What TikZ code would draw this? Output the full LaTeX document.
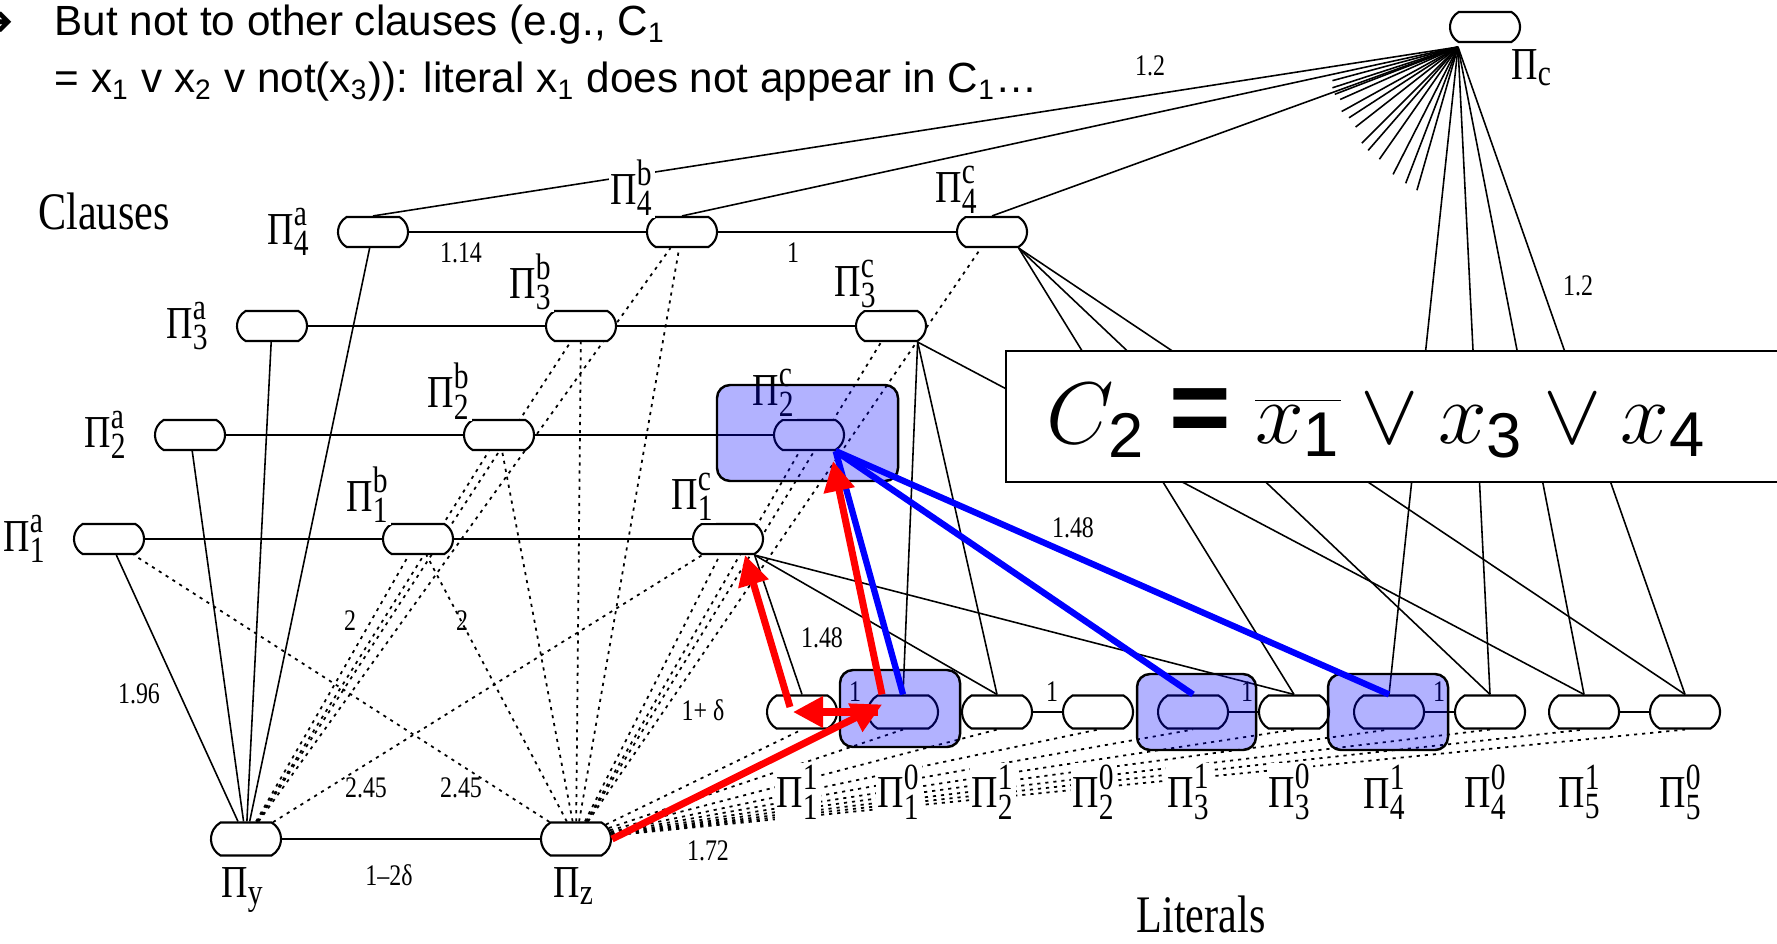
\documentclass[tikz,border=0pt]{standalone}
\usepackage{fontspec}
\setmainfont{Liberation Serif}
\setsansfont{Liberation Sans}
\newfontfamily\narrowfont[FakeStretch=0.8]{Liberation Serif}
\newfontfamily\symfont{DejaVu Sans}
\usetikzlibrary{shapes.misc,arrows.meta}
\pgfdeclarelayer{background}
\pgfsetlayers{background,main}

\newcommand\scriptlab{\fontsize{10.5}{10.5}\selectfont}
\newcommand\PiLab[2]{$\hbox{Π}^{\hbox{\scriptlab #1}}_{\hbox{\scriptlab #2}}$}
\newcommand\PiSub[1]{$\hbox{Π}_{\hbox{\scriptlab #1}}$}
\newcommand\fsub[1]{_{\hbox{\sffamily\fontsize{18}{18}\selectfont #1}}}

\begin{document}
\begin{tikzpicture}[x=0.01cm, y=-0.01cm,
  clause/.style={rounded rectangle, rounded rectangle arc length=120, draw=black, line width=0.6pt, fill=white, minimum width=0.7cm, minimum height=0.3cm, inner sep=0pt},
  literal/.style={clause, minimum height=0.33cm},
  pilabel/.style={inner sep=0.5pt, fill=white, font=\narrowfont\fontsize{13}{13}\selectfont},
  weight/.style={inner sep=0pt, font=\narrowfont\fontsize{8.5}{9}\selectfont},
  bigword/.style={inner sep=0pt, anchor=base, font=\narrowfont\fontsize{15}{15}\selectfont},
  solidedge/.style={line width=0.45pt},
  dottededge/.style={line width=0.5pt, dash pattern=on 0.9pt off 1.4pt},
  redarrow/.style={draw=red, line width=2pt, -{Triangle[length=3mm,width=3mm]}},
  blueedge/.style={draw=blue, line width=1.8pt},
  hilite/.style={draw=black, line width=0.7pt, fill=blue, fill opacity=0.3, rounded corners=1.3mm},
]
\useasboundingbox (0,0) rectangle (1777,943);

%%% text at the top
\node[anchor=base east, inner sep=0pt, font=\symfont\fontsize{12}{14}\selectfont] (bullet) at (15,36) {➔};
\node[anchor=base west, inner sep=0pt, font=\sffamily\fontsize{12}{14}\selectfont] (line1) at (54,36) {But not to other clauses (e.g., C\textsubscript{1}};
\node[anchor=base west, inner sep=0pt, font=\sffamily\fontsize{12}{14}\selectfont] (line2) at (54,93) {= x\textsubscript{1} v x\textsubscript{2} v not(x\textsubscript{3})): literal x\textsubscript{1} does not appear in C\textsubscript{1}…};

\node[bigword] (clauses) at (104,230) {Clauses};
\node[bigword] (literals) at (1201,932) {Literals};

%%% clause nodes
\foreach \i/\y/\x in {1/539/109, 2/435/190, 3/326/272, 4/232/373} {
  \node[clause] (a\i) at (\x,\y) {};
  \node[clause] (b\i) at (\x+309,\y) {};
  \node[clause] (c\i) at (\x+619,\y) {};
  \node[pilabel] (ta\i) at (\x-84,\y) {\PiLab{a}{\i}};
  \node[pilabel] (tb\i) at (\x+259,\y-44) {\PiLab{b}{\i}};
  \node[pilabel] (tc\i) at (\x+584,\y-42) {\PiLab{c}{\i}};
}
\node[clause] (pc) at (1485,27) {};
\node[pilabel] (tpc) at (1532,68) {\PiSub{c}};
\node[clause, minimum height=0.33cm] (py) at (246,839) {};
\node[clause, minimum height=0.33cm] (pz) at (576,839) {};
\node[pilabel] (tpy) at (243,890) {\PiSub{y}};
\node[pilabel] (tpz) at (574,886) {\PiSub{z}};

%%% literal nodes
\foreach \k/\x in {1/802, 2/997, 3/1193, 4/1389, 5/1584} {
  \node[literal] (l\k1) at (\x,712) {};
  \node[literal] (l\k0) at (\x+101,712) {};
  \node[pilabel] (t\k1) at (\x-4,792) {\PiLab{1}{\k}};
  \node[pilabel] (t\k0) at (\x+97,792) {\PiLab{0}{\k}};
}

%%% edges
\begin{pgfonlayer}{background}
  \foreach \i in {1,...,4} {
    \draw[solidedge] (a\i) -- (b\i) -- (c\i);
    \draw[solidedge] (py) -- (a\i);
    \draw[dottededge] (py) -- (b\i);
    \draw[dottededge] (pz) -- (b\i);
    \draw[dottededge] (pz) -- (c\i);
  }
  \draw[solidedge] (py) -- (pz);
  \draw[dottededge] (py) -- (c1);
  \draw[dottededge] (pz) -- (a1);
  \foreach \n in {l11,l10,l21,l20,l31,l30,l41,l40,l51,l50}
    \draw[dottededge] (pz) -- (\n.south);
  \foreach \k in {1,...,5}
    \draw[solidedge] (l\k1) -- (l\k0);
  % edges of Pi_c
  \coordinate (cfoot) at (1458,47);
  \foreach \n in {a4,b4,c4,l41,l40,l51,l50}
    \draw[solidedge] (cfoot) -- (\n.north);
  \foreach \a/\r in {15/130, 18/132, 21/132, 24/129, 29/133, 33/130, 38/130, 45/136, 49/137, 55/137, 63/143, 69/146, 74/149}
    \draw[solidedge] (cfoot) -- ++(180-\a:\r);
  % clauses to literals
  \foreach \n in {l30,l40,l50} \draw[solidedge] (c4.south east) -- (\n.north);
  \foreach \n in {l10,l21,l51} \draw[solidedge] (c3.south east) -- (\n.north);
  \foreach \n in {l10,l31,l41} \draw[solidedge] (c2.south east) -- (\n.north);
  \foreach \n in {l11,l21,l30} \draw[solidedge] (c1.south east) -- (\n.north);
\end{pgfonlayer}

%%% weights
\node[weight] (w1) at (1150,66) {1.2};
\node[weight] (w2) at (1578,286) {1.2};
\node[weight] (w3) at (461,253) {1.14};
\node[weight] (w4) at (793,253) {1};
\node[weight] (w5) at (139,694) {1.96};
\node[weight] (w6) at (350,621) {2};
\node[weight] (w7) at (462,621) {2};
\node[weight] (w8) at (366,788) {2.45};
\node[weight] (w9) at (461,788) {2.45};
\node[weight] (w10) at (389,875) {1–2δ};
\node[weight] (w11) at (708,851) {1.72};
\node[weight] (w12) at (703,710) {1+ δ};
\node[weight] (w13) at (822,638) {1.48};
\node[weight] (w14) at (1073,528) {1.48};
\foreach \k/\x in {1/855, 2/1052, 3/1247, 4/1439}
  \node[weight] (wl\k) at (\x,692) {1};

%%% the clause
\draw[fill=white, line width=0.8pt] (1006,351) rectangle (1800,482);
\node[anchor=base west, inner sep=0pt, font=\fontsize{24}{28}\selectfont] (formula) at (1046,443)
  {$C\fsub{2} \mathrel{\hbox{\sffamily\bfseries\fontsize{30}{30}\selectfont =}} \overline{x\fsub{1}} \vee x\fsub{3} \vee x\fsub{4}$};

%%% highlighted nodes
\draw[hilite] (717,385) rectangle (898,481);
\draw[hilite] (840,670) rectangle (960,747);
\draw[hilite] (1137,674) rectangle (1256,750);
\draw[hilite] (1328,674) rectangle (1448,750);

%%% blue and red paths
\foreach \n in {l10,l31,l41} \draw[blueedge] (c2.south east) -- (\n.north);
\draw[redarrow, shorten >=-1.7mm] (pz.east) -- (l10.west);
\draw[redarrow] ([xshift=-0.21cm]l10.north) -- ([xshift=0.24cm,yshift=-0.1cm]c2.south);
\draw[redarrow] ([xshift=-0.25cm]l10.center) -- ([xshift=-0.09cm]l11.center);
\draw[redarrow] ([xshift=-0.12cm,yshift=0.05cm]l11.center) -- ([xshift=0.17cm]c1.south);
\end{tikzpicture}
\end{document}
